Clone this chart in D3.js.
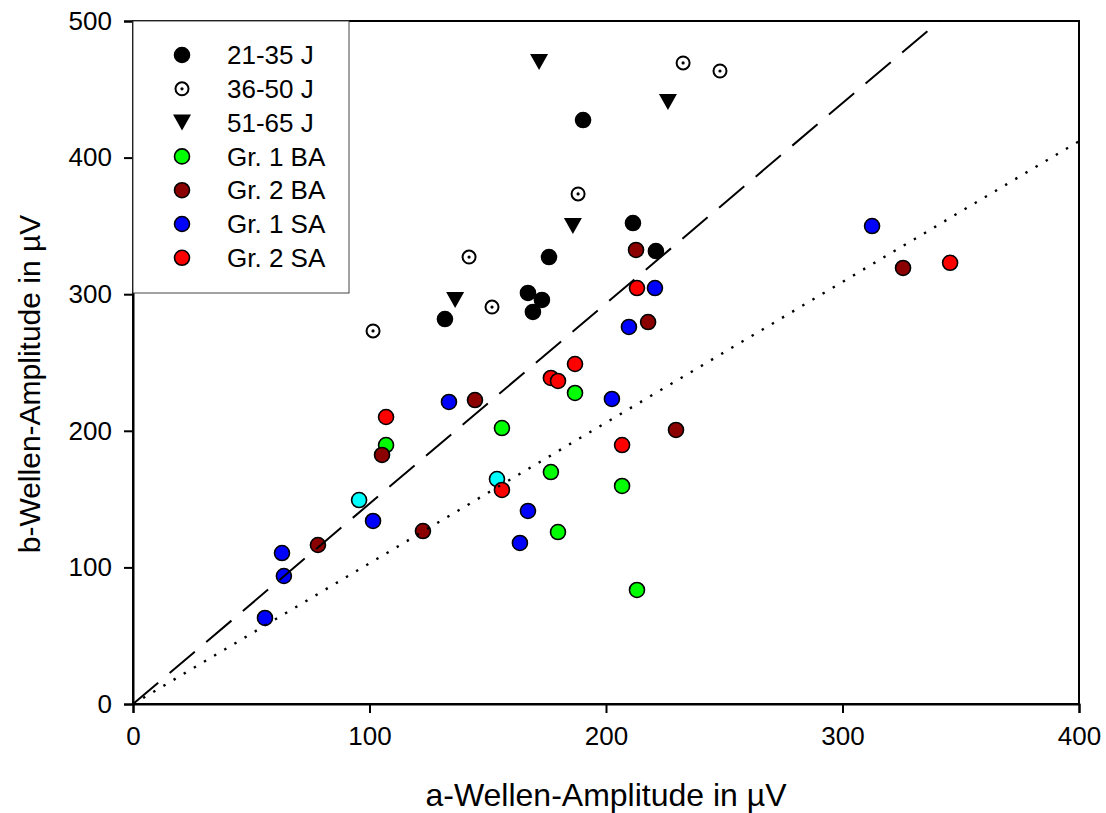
<!DOCTYPE html>
<html>
<head>
<meta charset="utf-8">
<script src="https://cdn.jsdelivr.net/npm/d3@7"></script>
<style>
  html, body { margin: 0; padding: 0; background: #fff; }
  svg { display: block; font-family: Arial, "Liberation Sans", sans-serif; }
</style>
</head>
<body>
<svg id="chart"></svg>
<script>
// values: [a-Welle, b-Welle] in µV
const age21to35 = [[190.3, 427.5], [211.4, 352.1], [175.9, 327.2], [221.1, 331.6],
  [167, 300.9], [172.9, 295.8], [169.1, 287], [131.9, 281.8]];
const age36to50 = [[232.6, 469.3], [248.2, 463.4], [188.2, 373.4], [142.1, 327.2],
  [151.8, 290.6], [101.5, 273.1]];
const age51to65 = [[171.7, 470], [226.2, 440.7], [186, 349.9], [136.2, 295.8]];
const gr1BA = [[186.9, 227.7], [156, 202], [107, 189.6], [176.7, 169.8],
  [206.8, 159.6], [179.7, 125.9], [213.1, 83.5]];
const gr2BA = [[212.7, 332.4], [217.8, 279.6], [144.6, 222.5], [105.3, 182.3],
  [229.6, 200.6], [122.6, 126.6], [78.2, 116.4], [325.6, 319.2]];
const gr1SA = [[220.7, 304.5], [209.7, 276], [133.6, 221.1], [202.5, 223.3],
  [101.5, 134], [167, 141.3], [163.6, 117.9], [63, 110.5], [63.8, 93.7],
  [55.8, 63], [312.5, 349.9]];
const gr2SA = [[213.1, 304.5], [186.9, 248.9], [176.7, 238.7], [179.7, 236.5],
  [107, 210.1], [206.8, 189.6], [156, 156.7], [345.5, 323]];
const extraPts = [[153.9, 164.7], [95.6, 149.3]];

const dashedLine = [[0, 0], [341, 500]];
const dottedLine = [[0, 0], [400, 412]];

const xTicks = [0, 100, 200, 300, 400];
const yTicks = [0, 100, 200, 300, 400, 500];
const legendLabels = ['21-35 J', '36-50 J', '51-65 J', 'Gr. 1 BA', 'Gr. 2 BA', 'Gr. 1 SA', 'Gr. 2 SA'];

const width = 1106;
const height = 813;
const margin = {top: 21, right: 27, bottom: 109, left: 133};

const svg = d3.select('#chart')
    .attr('width', width)
    .attr('height', height);

svg.append('rect').attr('width', width).attr('height', height).attr('fill', '#fff');

const x = d3.scaleLinear().domain([0, 400]).range([margin.left, width - margin.right]);
const y = d3.scaleLinear().domain([0, 500]).range([height - margin.bottom, margin.top]);

// markers
const triPath = 'M-9,-8L9,-8L0,8Z';

function dots(data, fill) {
  svg.append('g').selectAll('circle')
    .data(data)
    .join('circle')
      .attr('cx', d => x(d[0]))
      .attr('cy', d => y(d[1]))
      .attr('r', 7.5)
      .attr('fill', fill)
      .attr('stroke', '#000')
      .attr('stroke-width', 1.6);
}

function openDots(data) {
  const g = svg.append('g').selectAll('g')
    .data(data)
    .join('g')
      .attr('transform', d => `translate(${x(d[0])},${y(d[1])})`);
  g.append('circle').attr('r', 6.5).attr('fill', '#fff').attr('stroke', '#000').attr('stroke-width', 2);
  g.append('circle').attr('r', 1.6).attr('fill', '#000');
}

function triangles(data) {
  svg.append('g').selectAll('path')
    .data(data)
    .join('path')
      .attr('d', triPath)
      .attr('transform', d => `translate(${x(d[0])},${y(d[1])})`)
      .attr('fill', '#000');
}

dots(age21to35, '#000');
openDots(age36to50);
triangles(age51to65);
dots(extraPts, '#00ffff');
dots(gr1BA, '#00ff00');
dots(gr2BA, '#8b0000');
dots(gr1SA, '#0000ff');
dots(gr2SA, '#ff0000');

// reference lines
const line = d3.line().x(d => x(d[0])).y(d => y(d[1]));

svg.append('path')
    .datum(dashedLine)
    .attr('d', line)
    .attr('fill', 'none')
    .attr('stroke', '#000')
    .attr('stroke-width', 2)
    .attr('stroke-dasharray', '33,15');

svg.append('path')
    .datum(dottedLine)
    .attr('d', line)
    .attr('fill', 'none')
    .attr('stroke', '#000')
    .attr('stroke-width', 2.4)
    .attr('stroke-dasharray', '2.4,9.4');

// frame
svg.append('rect')
    .attr('x', x(0)).attr('y', y(500))
    .attr('width', x(400) - x(0)).attr('height', y(0) - y(500))
    .attr('fill', 'none')
    .attr('stroke', '#000')
    .attr('stroke-width', 2);

// axes
const xAxis = svg.append('g')
    .attr('transform', `translate(0,${y(0)})`)
    .call(d3.axisBottom(x).tickValues(xTicks).tickSize(9).tickPadding(14));

const yAxis = svg.append('g')
    .attr('transform', `translate(${x(0)},0)`)
    .call(d3.axisLeft(y).tickValues(yTicks).tickSize(9).tickPadding(12));

[xAxis, yAxis].forEach(a => {
  a.select('.domain').attr('stroke', '#000').attr('stroke-width', 2);
  a.selectAll('.tick line').attr('stroke', '#000').attr('stroke-width', 2);
  a.selectAll('.tick text')
      .attr('fill', '#000')
      .style('font-family', 'Arial, "Liberation Sans", sans-serif')
      .style('font-size', '26px');
});

// axis titles
svg.append('text')
    .attr('x', (x(0) + x(400)) / 2)
    .attr('y', 806)
    .attr('text-anchor', 'middle')
    .style('font-size', '32px')
    .text('a-Wellen-Amplitude in µV');

svg.append('text')
    .attr('transform', 'translate(40,384) rotate(-90)')
    .attr('text-anchor', 'middle')
    .style('font-size', '30px')
    .text('b-Wellen-Amplitude in µV');

// legend
const legend = svg.append('g');
legend.append('rect')
    .attr('x', x(0)).attr('y', y(500))
    .attr('width', 216).attr('height', 272)
    .attr('fill', '#fff')
    .attr('stroke', '#444')
    .attr('stroke-width', 1);

const legendFills = ['#000', '#fff', '#000', '#00ff00', '#8b0000', '#0000ff', '#ff0000'];
const rows = legend.selectAll('g.row')
  .data(legendLabels)
  .join('g')
    .attr('class', 'row')
    .attr('transform', (d, i) => `translate(182,${55 + i * 33.8})`);

rows.each(function(d, i) {
  const g = d3.select(this);
  if (i === 2) {
    g.append('path').attr('d', triPath).attr('fill', '#000');
  } else if (i === 1) {
    g.append('circle').attr('r', 6.5).attr('fill', '#fff').attr('stroke', '#000').attr('stroke-width', 2);
    g.append('circle').attr('r', 1.6).attr('fill', '#000');
  } else {
    g.append('circle').attr('r', 7.5).attr('fill', legendFills[i])
        .attr('stroke', '#000').attr('stroke-width', 1.6);
  }
  g.append('text')
      .attr('x', 45)
      .attr('dy', '0.35em')
      .style('font-size', '26px')
      .text(d);
});
</script>
</body>
</html>
